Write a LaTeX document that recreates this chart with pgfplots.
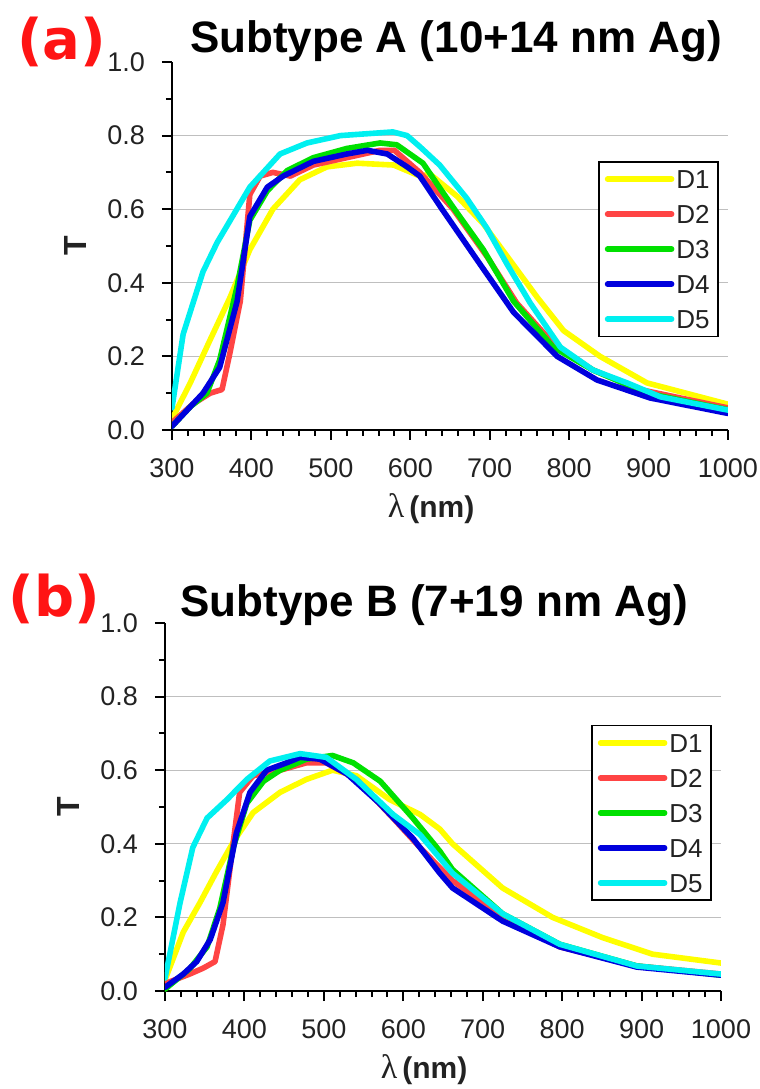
\documentclass[border=0pt]{standalone}
\usepackage{fontspec}
\setmainfont{Liberation Sans}
\newfontfamily\dejavu{DejaVu Sans}
\newfontfamily\lserif{Liberation Serif}
\usepackage{pgfplots}
\pgfplotsset{compat=1.18}
\definecolor{cY}{HTML}{FFFF00}
\definecolor{cR}{HTML}{FF4444}
\definecolor{cG}{HTML}{00E000}
\definecolor{cB}{HTML}{0000DD}
\definecolor{cC}{HTML}{00F0F0}
\definecolor{tagred}{HTML}{FF1414}
\definecolor{txt}{HTML}{222222}
\pgfplotsset{
  panel/.style={
    scale only axis, width=278pt, height=184pt,
    xmin=300, xmax=1000, ymin=0, ymax=1,
    clip mode=individual,
    axis x line*=bottom, axis y line*=left,
    axis line style={-, line width=1.1pt, black},
    xtick={300,400,...,1000}, minor xtick={300,320,...,1000},
    ytick={0.2,0.4,0.6,0.8}, extra y ticks={0,1},
    extra y tick style={grid=none},
    minor ytick={0.1,0.3,0.5,0.7,0.9},
    tick align=outside, major tick length=5pt, minor tick length=3pt,
    every tick/.style={black, line width=1pt},
    ymajorgrids, grid style={black!25, line width=0.6pt},
    /pgf/number format/assume math mode=true,
    y tick label style={/pgf/number format/.cd, fixed, fixed zerofill, precision=1, /tikz/.cd, xshift=-5pt},
    x tick label style={/pgf/number format/.cd, 1000 sep={}, /tikz/.cd, yshift=-6pt},
    tick label style={font=\fontsize{13.5}{15}\selectfont, text=txt},
    ylabel={\bfseries T},
    ylabel style={at={(axis description cs:-0.173,0.5)}, anchor=center, font=\fontsize{16}{18}\selectfont, text=txt},
    xlabel={{\lserif\fontsize{17}{18}\selectfont λ}\,{\bfseries (nm)}},
    xlabel style={at={(axis description cs:0.466,-0.214)}, anchor=center, font=\fontsize{15}{17}\selectfont, text=txt},
    every axis plot/.append style={line width=2.8pt, line join=round, line cap=round},
    legend image code/.code={\draw[#1] (0pt,0pt) -- (32pt,0pt);},
    legend style={anchor=north west, draw=black, line width=0.9pt, fill=white,
      font=\fontsize{13}{14}\selectfont, text=txt, inner sep=3pt, row sep=6.2pt,
      nodes={inner sep=1pt, text height=9.3pt, text depth=0pt}},
  }
}
\begin{document}
\begin{tikzpicture}
\useasboundingbox (0,0) rectangle (380pt,544.5pt);
% (a) subtype A
\begin{axis}[panel, at={(86pt,329.5pt)}, anchor=south west,
  legend style={at={(0.766,0.731)}}]
\addplot[cY] coordinates {(300,0.03) (323,0.128) (348,0.245) (373,0.36) (398,0.49) (427,0.60) (461,0.68) (495,0.715) (533,0.725) (579,0.72) (612,0.69) (625,0.695) (659,0.635) (692,0.56) (726,0.46) (760,0.36) (793,0.27) (839,0.20) (898,0.128) (1000,0.07)};
\addplot[cR] coordinates {(300,0.02) (326,0.07) (348,0.10) (363,0.11) (373,0.21) (386,0.35) (398,0.64) (411,0.69) (427,0.70) (449,0.69) (478,0.72) (520,0.74) (562,0.76) (580,0.76) (612,0.70) (654,0.60) (697,0.47) (734,0.345) (780,0.235) (830,0.163) (889,0.11) (1000,0.06)};
\addplot[cG] coordinates {(300,0.01) (323,0.063) (344,0.10) (360,0.19) (382,0.39) (398,0.57) (420,0.65) (445,0.705) (478,0.74) (520,0.765) (562,0.78) (583,0.775) (616,0.725) (638,0.655) (654,0.605) (692,0.49) (730,0.35) (780,0.225) (830,0.163) (898,0.10) (1000,0.055)};
\addplot[cB] coordinates {(300,0.01) (339,0.10) (360,0.17) (382,0.35) (398,0.58) (420,0.66) (440,0.69) (478,0.73) (520,0.75) (546,0.76) (571,0.75) (596,0.715) (612,0.69) (640,0.60) (688,0.45) (730,0.32) (785,0.20) (835,0.136) (902,0.087) (1000,0.045)};
\addplot[cC] coordinates {(300,0.06) (314,0.26) (339,0.43) (357,0.51) (398,0.66) (436,0.75) (470,0.78) (512,0.80) (578,0.81) (596,0.80) (612,0.77) (637,0.72) (671,0.63) (696,0.55) (722,0.45) (751,0.345) (789,0.225) (830,0.163) (873,0.128) (915,0.09) (1000,0.054)};
\legend{D1,D2,D3,D4,D5}
\node[anchor=base west, inner sep=0pt, font=\bfseries\fontsize{22}{26}\selectfont] at (axis description cs:0.032,1.0245) {Subtype A (10+14 nm Ag)};
\node[anchor=base west, inner sep=0pt, text=tagred, font=\dejavu\bfseries\fontsize{28}{32}\selectfont] at (axis description cs:-0.279,1.008) {(a)};
\end{axis}
% (b) subtype B
\begin{axis}[panel, at={(82.5pt,49pt)}, anchor=south west,
  legend style={at={(0.766,0.724)}}]
\addplot[cY] coordinates {(300,0.03) (323,0.16) (344,0.24) (365,0.325) (386,0.405) (411,0.485) (445,0.54) (478,0.575) (511,0.60) (541,0.585) (583,0.52) (621,0.48) (646,0.44) (662,0.40) (725,0.28) (788,0.20) (851,0.145) (914,0.10) (1000,0.076)};
\addplot[cR] coordinates {(300,0.02) (331,0.046) (348,0.062) (363,0.08) (373,0.18) (386,0.405) (394,0.54) (411,0.585) (445,0.60) (478,0.62) (503,0.62) (541,0.575) (587,0.47) (621,0.39) (662,0.30) (725,0.20) (797,0.12) (894,0.068) (1000,0.046)};
\addplot[cG] coordinates {(300,0.005) (331,0.06) (353,0.12) (369,0.225) (386,0.39) (403,0.51) (424,0.57) (445,0.60) (478,0.63) (511,0.64) (537,0.62) (571,0.57) (612,0.47) (646,0.38) (662,0.33) (725,0.21) (797,0.127) (894,0.068) (1000,0.043)};
\addplot[cB] coordinates {(300,0.01) (323,0.046) (340,0.08) (357,0.14) (373,0.24) (390,0.43) (407,0.54) (428,0.60) (453,0.62) (470,0.635) (495,0.63) (529,0.59) (570,0.51) (612,0.415) (646,0.32) (662,0.28) (725,0.19) (797,0.12) (894,0.065) (1000,0.043)};
\addplot[cC] coordinates {(300,0.035) (319,0.24) (335,0.39) (353,0.47) (378,0.52) (403,0.575) (432,0.625) (470,0.645) (503,0.635) (541,0.575) (587,0.48) (621,0.425) (662,0.32) (725,0.21) (797,0.127) (894,0.068) (1000,0.046)};
\legend{D1,D2,D3,D4,D5}
\node[anchor=base west, inner sep=0pt, font=\bfseries\fontsize{22}{26}\selectfont] at (axis description cs:0.027,1.019) {Subtype B (7+19 nm Ag)};
\node[anchor=base west, inner sep=0pt, text=tagred, font=\dejavu\bfseries\fontsize{28}{32}\selectfont] at (axis description cs:-0.282,1.018) {(b)};
\end{axis}
\end{tikzpicture}
\end{document}
